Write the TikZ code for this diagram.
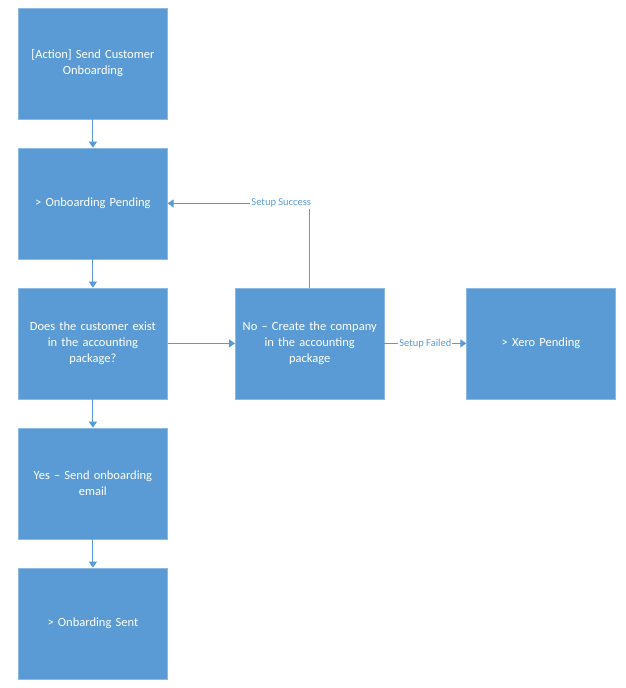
\documentclass[tikz,border=0pt]{standalone}
\usepackage{fontspec}
\setmainfont{Carlito}
\usetikzlibrary{arrows.meta}
\definecolor{boxblue}{HTML}{5B9BD5}
\tikzset{
  flowbox/.style={rectangle, fill=boxblue, draw=boxblue!70!white, text=white, minimum width=149pt, minimum height=111pt, text width=140pt, align=center, font=\fontsize{12.5}{16}\selectfont},
  flowline/.style={draw=boxblue, line width=1.1pt, -{Triangle[length=6pt,width=8pt]}},
  flowlabel/.style={fill=white, text=boxblue, inner sep=1pt, font=\fontsize{10.5}{12}\selectfont}
}
\begin{document}
\begin{tikzpicture}[x=1pt, y=-1pt]
      \useasboundingbox (0,0) rectangle (625,688);
      \node (1) at (92.9,63.4) [flowbox] {[Action] Send Customer\\ Onboarding};
      \node (2) at (92.9,203.4) [flowbox] {> Onboarding Pending};
      \node (3) at (92.9,343.4) [flowbox] {Does the customer exist\\ in the accounting\\ package?};
      \node (4) at (92.9,483.4) [flowbox] {Yes -- Send onboarding\\ email};
      \node (5) at (92.9,623.4) [flowbox] {> Onbarding Sent};
      \node (6) at (309.7,343.4) [flowbox] {No -- Create the company\\ in the accounting\\ package};
      \node (7) at (541,343.4) [flowbox] {> Xero Pending};
      \coordinate (6top) at (309.7,203.4);
      \foreach \source/\dest in {1/2, 2/3, 3/4, 4/5, 3/6}
        \path[flowline] (\source) -- (\dest);
      \draw[flowline] (6.north) -- (6top) -- node[flowlabel, pos=0.2] {Setup Success} (2.east);
      \draw[flowline] (6) -- node[flowlabel] {Setup Failed} (7);
    \end{tikzpicture}
\end{document}
